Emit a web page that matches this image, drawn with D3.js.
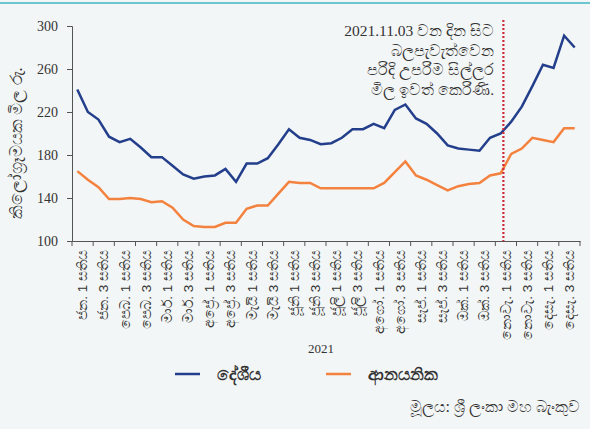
<!DOCTYPE html>
<html>
<head>
<meta charset="utf-8" />
<title>Price chart</title>
<script src="https://d3js.org/d3.v7.min.js"></script>
<style>
  body { margin: 0; background: #f3f6f6; }
  svg text { fill: #333; }
</style>
</head>
<body>
<svg id="chart" width="590" height="429"></svg>
<script>
// month labels (two per month, 1st and 3rd week)
var months = ["ජන.", "පෙබ.", "මාර්.", "අප්‍රේ.", "මැයි", "ජූනි", "ජූලි", "අගෝ.", "සැප්.", "ඔක්.", "නොවැ.", "දෙසැ."];
var weekLabels = [];
months.forEach(function(m) {
    weekLabels.push(m + " 1 සතිය");
    weekLabels.push(m + " 3 සතිය");
});

// weekly prices, Rs. per kg
var local = [241, 220, 213, 197, 192, 195, 187, 178, 178, 170, 162, 158,
             160, 161, 167, 155, 172, 172, 177, 190, 204, 196, 194, 190,
             191, 196, 204, 204, 209, 205, 222, 227, 214, 209, 200, 189,
             186, 185, 184, 196, 200, 211, 225, 244, 264, 261, 291, 280];
var imported = [165, 157, 150, 139, 139, 140, 139, 136, 137, 131, 120, 114,
                113, 113, 117, 117, 130, 133, 133, 144, 155, 154, 154, 149,
                149, 149, 149, 149, 149, 154, 164, 174, 161, 157, 152, 147,
                151, 153, 154, 161, 163, 181, 186, 196, 194, 192, 205, 205];
var yTicks = [100, 140, 180, 220, 260, 300];
var noteLines = ["2021.11.03 වන දින සිට", "බලපැවැත්වෙන", "පරිදි උපරිම සිල්ලර", "මිල ඉවත් කෙරිණි."];
var noteWeek = 40.76; // week index where the dotted line sits

var svg = d3.select("#chart");
var plotLeft = 72, plotRight = 580, plotTop = 26, plotBottom = 241;

// teal rule at the top
svg.append("rect").attr("x", 0).attr("y", 2).attr("width", 590).attr("height", 2)
    .attr("fill", "#6cc6d0");

var xBand = d3.scaleBand().domain(weekLabels).range([plotLeft, plotRight]);
var xWeek = d3.scaleLinear().domain([0, local.length]).range([plotLeft, plotRight]);
var y = d3.scaleLinear().domain([100, 300]).range([plotBottom, plotTop]);

// y axis
var yAxis = svg.append("g").attr("transform", "translate(" + plotLeft + ",0)")
    .call(d3.axisLeft(y).tickValues(yTicks).tickSize(5).tickPadding(9));
yAxis.selectAll("text").style("font-family", "Liberation Serif").style("font-size", "14px").attr("fill", "#444");
yAxis.selectAll("line, path").attr("stroke", "#555");

// x axis
var xAxis = svg.append("g").attr("transform", "translate(0," + plotBottom + ")")
    .call(d3.axisBottom(xBand).tickSize(0).tickPadding(0));
xAxis.select("path").attr("stroke", "#555");
xAxis.selectAll("text")
    .attr("transform", "rotate(-90)")
    .attr("x", -9).attr("y", 0).attr("dy", "0.35em")
    .style("text-anchor", "end")
    .style("font-size", "13.5px").attr("fill", "#444");
// tick marks on band edges
svg.append("g").selectAll("line")
    .data(d3.range(weekLabels.length + 1))
    .enter().append("line")
    .attr("x1", function(d) { return plotLeft + d * xBand.step(); })
    .attr("x2", function(d) { return plotLeft + d * xBand.step(); })
    .attr("y1", plotBottom).attr("y2", plotBottom + 5)
    .attr("stroke", "#555");

// y axis title
svg.append("text")
    .attr("transform", "translate(22,143) rotate(-90)")
    .attr("text-anchor", "middle")
    .style("font-size", "16.5px")
    .text("කිලෝග්‍රෑමයක මිල රු.");

// lines
var line = d3.line()
    .x(function(d, i) { return xWeek(i + 0.5); })
    .y(function(d) { return y(d); });

svg.append("path").datum(imported)
    .attr("fill", "none").attr("stroke", "#f4823f").attr("stroke-width", 2.5)
    .attr("d", line);
svg.append("path").datum(local)
    .attr("fill", "none").attr("stroke", "#233f8c").attr("stroke-width", 2.5)
    .attr("d", line);

// dotted marker
svg.append("line")
    .attr("x1", xWeek(noteWeek)).attr("x2", xWeek(noteWeek))
    .attr("y1", 20).attr("y2", plotBottom)
    .attr("stroke", "#d02a35").attr("stroke-width", 2.2)
    .attr("stroke-dasharray", "2,2");

svg.append("g").selectAll("text")
    .data(noteLines)
    .enter().append("text")
    .attr("x", 494)
    .attr("y", function(d, i) { return 36 + i * 19.7; })
    .attr("text-anchor", "end")
    .style("font-size", "15.5px")
    .style("font-family", "Liberation Serif")
    .text(function(d) { return d; });

// year label
svg.append("text").attr("x", 321).attr("y", 353).attr("text-anchor", "middle")
    .style("font-family", "Liberation Serif").style("font-size", "13px").attr("fill", "#444")
    .text("2021");

// legend
var legend = [
    { name: "දේශීය", color: "#233f8c", x: 175 },
    { name: "ආනයනික", color: "#f4823f", x: 326 }
];
var lg = svg.append("g").selectAll("g").data(legend).enter().append("g");
lg.append("line")
    .attr("x1", function(d) { return d.x; }).attr("x2", function(d) { return d.x + 25; })
    .attr("y1", 374).attr("y2", 374)
    .attr("stroke", function(d) { return d.color; }).attr("stroke-width", 2.5);
lg.append("text")
    .attr("x", function(d) { return d.x + 42; }).attr("y", 380)
    .style("font-size", "17px").style("font-weight", "bold").attr("fill", "#333")
    .text(function(d) { return d.name; });

// source
svg.append("text").attr("x", 580).attr("y", 412).attr("text-anchor", "end")
    .style("font-size", "16px").attr("fill", "#444")
    .text("මූලය: ශ්‍රී ලංකා මහ බැංකුව");
</script>
</body>
</html>
